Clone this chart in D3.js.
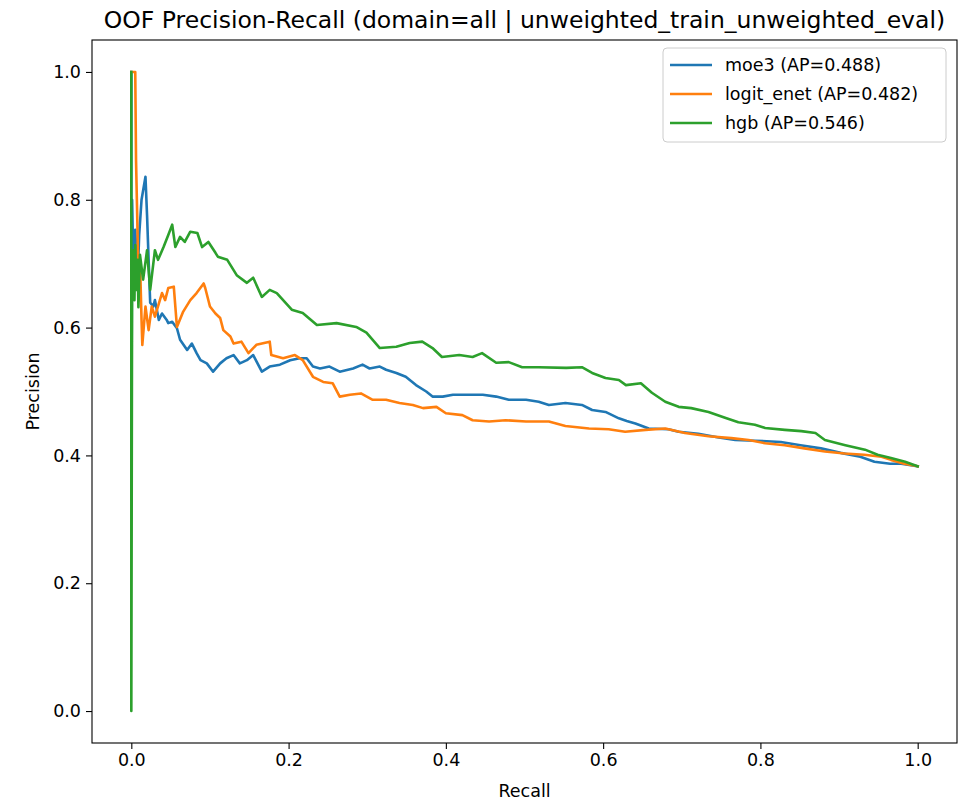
<!DOCTYPE html>
<html>
<head>
<meta charset="utf-8">
<script src="https://cdn.jsdelivr.net/npm/d3@7"></script>
<style>
  html, body { margin: 0; padding: 0; background: #fff; }
  svg { display: block; font-family: 'DejaVu Sans', sans-serif; }
</style>
</head>
<body>
<div id="chart"></div>
<script>
// Chart data (recall, precision)
const moe3PR = [
  [0, 1], [0, 0.33], [0.001, 0.800], [0.003, 0.675], [0.005, 0.753], [0.008, 0.675], [0.010, 0.745],
  [0.013, 0.800], [0.018, 0.836], [0.020, 0.776], [0.022, 0.706], [0.024, 0.639], [0.028, 0.633],
  [0.030, 0.643], [0.035, 0.612], [0.039, 0.622], [0.045, 0.612], [0.047, 0.607], [0.052, 0.609],
  [0.058, 0.599], [0.062, 0.581], [0.071, 0.565], [0.077, 0.575], [0.083, 0.560], [0.088, 0.549],
  [0.096, 0.544], [0.104, 0.531], [0.113, 0.544], [0.121, 0.552], [0.130, 0.557], [0.138, 0.544],
  [0.147, 0.549], [0.155, 0.557], [0.166, 0.531], [0.176, 0.539], [0.189, 0.542], [0.202, 0.549],
  [0.214, 0.552], [0.223, 0.552], [0.231, 0.539], [0.240, 0.536], [0.252, 0.539], [0.265, 0.531],
  [0.282, 0.536], [0.294, 0.542], [0.303, 0.536], [0.316, 0.539], [0.324, 0.534], [0.337, 0.529],
  [0.349, 0.523], [0.362, 0.510], [0.375, 0.500], [0.383, 0.492], [0.396, 0.492], [0.409, 0.495],
  [0.426, 0.495], [0.447, 0.495], [0.464, 0.492], [0.480, 0.487], [0.502, 0.487], [0.518, 0.484],
  [0.531, 0.479], [0.552, 0.482], [0.573, 0.479], [0.586, 0.471], [0.603, 0.468], [0.620, 0.458],
  [0.630, 0.454], [0.641, 0.450], [0.658, 0.442], [0.683, 0.441], [0.696, 0.437], [0.721, 0.434],
  [0.747, 0.428], [0.768, 0.424], [0.793, 0.423], [0.826, 0.421], [0.851, 0.416], [0.877, 0.411],
  [0.902, 0.404], [0.927, 0.398], [0.945, 0.390], [0.965, 0.387], [0.979, 0.387], [1.0, 0.383]
];

const logitEnetPR = [
  [0, 1], [0.005, 1], [0.006, 0.862], [0.008, 0.745], [0.009, 0.675], [0.010, 0.643], [0.011, 0.706],
  [0.013, 0.612], [0.014, 0.573], [0.018, 0.633], [0.022, 0.596], [0.026, 0.633], [0.030, 0.617],
  [0.039, 0.654], [0.043, 0.643], [0.047, 0.662], [0.054, 0.664], [0.058, 0.601], [0.066, 0.625],
  [0.075, 0.643], [0.083, 0.654], [0.092, 0.669], [0.094, 0.662], [0.100, 0.633], [0.107, 0.622],
  [0.113, 0.615], [0.117, 0.596], [0.126, 0.586], [0.130, 0.575], [0.140, 0.578], [0.149, 0.560],
  [0.159, 0.573], [0.176, 0.578], [0.178, 0.557], [0.193, 0.552], [0.208, 0.557], [0.218, 0.549],
  [0.231, 0.523], [0.244, 0.515], [0.256, 0.513], [0.265, 0.492], [0.278, 0.495], [0.292, 0.497],
  [0.307, 0.487], [0.324, 0.487], [0.341, 0.482], [0.358, 0.479], [0.371, 0.474], [0.388, 0.476],
  [0.400, 0.466], [0.421, 0.463], [0.434, 0.455], [0.455, 0.453], [0.476, 0.455], [0.502, 0.453],
  [0.531, 0.453], [0.552, 0.446], [0.582, 0.442], [0.607, 0.441], [0.628, 0.437], [0.654, 0.440],
  [0.679, 0.442], [0.704, 0.435], [0.734, 0.430], [0.763, 0.427], [0.785, 0.424], [0.806, 0.419],
  [0.831, 0.416], [0.856, 0.411], [0.882, 0.406], [0.907, 0.403], [0.932, 0.401], [0.954, 0.398],
  [0.966, 0.393], [0.983, 0.387], [1.0, 0.383]
];

const hgbPR = [
  [0, 1], [0, 0], [0.001, 0.675], [0.003, 0.721], [0.004, 0.643], [0.005, 0.729], [0.006, 0.659],
  [0.008, 0.706], [0.009, 0.632], [0.011, 0.714], [0.015, 0.675], [0.020, 0.721], [0.024, 0.659],
  [0.030, 0.721], [0.034, 0.706], [0.041, 0.726], [0.047, 0.745], [0.052, 0.761], [0.056, 0.726],
  [0.062, 0.742], [0.068, 0.734], [0.075, 0.750], [0.084, 0.748], [0.090, 0.726], [0.098, 0.734],
  [0.107, 0.717], [0.110, 0.711], [0.122, 0.706], [0.134, 0.682], [0.147, 0.670], [0.155, 0.678],
  [0.166, 0.648], [0.176, 0.659], [0.185, 0.654], [0.204, 0.628], [0.218, 0.623], [0.236, 0.604],
  [0.261, 0.607], [0.286, 0.601], [0.299, 0.592], [0.316, 0.568], [0.337, 0.570], [0.354, 0.576],
  [0.370, 0.578], [0.383, 0.568], [0.395, 0.554], [0.417, 0.557], [0.434, 0.554], [0.446, 0.560],
  [0.464, 0.545], [0.480, 0.546], [0.497, 0.538], [0.518, 0.538], [0.553, 0.537], [0.573, 0.538],
  [0.586, 0.529], [0.603, 0.521], [0.620, 0.518], [0.629, 0.510], [0.648, 0.513], [0.662, 0.498],
  [0.679, 0.484], [0.696, 0.476], [0.712, 0.474], [0.734, 0.468], [0.755, 0.459], [0.772, 0.452],
  [0.793, 0.448], [0.806, 0.443], [0.831, 0.440], [0.852, 0.438], [0.870, 0.435], [0.882, 0.424],
  [0.908, 0.416], [0.933, 0.409], [0.949, 0.401], [0.966, 0.396], [0.984, 0.390], [1.0, 0.383]
];

const seriesNames = ['moe3', 'logit_enet', 'hgb'];
const apValues = [0.488, 0.482, 0.546];
const seriesColors = ['#1f77b4', '#ff7f0e', '#2ca02c'];
const xTicks = [0, 0.2, 0.4, 0.6, 0.8, 1.0];
const yTicks = [0, 0.2, 0.4, 0.6, 0.8, 1.0];

const series = [moe3PR, logitEnetPR, hgbPR].map((points, i) => ({
  name: seriesNames[i],
  ap: apValues[i],
  color: seriesColors[i],
  points
}));

const width = 964;
const height = 805;
const margin = { top: 40, right: 7, bottom: 62, left: 92 };
const plotW = width - margin.left - margin.right;
const plotH = height - margin.top - margin.bottom;

const svg = d3
  .select('#chart')
  .append('svg')
  .attr('width', width)
  .attr('height', height);

const g = svg.append('g').attr('transform', `translate(${margin.left},${margin.top})`);

// Scales
const x = d3.scaleLinear().domain([-0.05, 1.05]).range([0, plotW]);
const y = d3.scaleLinear().domain([-0.05, 1.05]).range([plotH, 0]);

// Clip for lines
svg
  .append('defs')
  .append('clipPath')
  .attr('id', 'plot-clip')
  .append('rect')
  .attr('width', plotW)
  .attr('height', plotH);

// X axis
g.append('g')
  .attr('transform', `translate(0,${plotH})`)
  .call(d3.axisBottom(x).tickValues(xTicks).tickFormat(d3.format('.1f')).tickSize(6).tickPadding(5))
  .call((a) => a.select('.domain').remove())
  .call((a) => a.selectAll('.tick line').attr('stroke', '#000').attr('stroke-width', 1.1))
  .call((a) => a.selectAll('.tick text').attr('fill', '#000').style('font-size', '17.5px').style('font-family', 'DejaVu Sans'));

// Y axis
g.append('g')
  .call(d3.axisLeft(y).tickValues(yTicks).tickFormat(d3.format('.1f')).tickSize(6).tickPadding(5))
  .call((a) => a.select('.domain').remove())
  .call((a) => a.selectAll('.tick line').attr('stroke', '#000').attr('stroke-width', 1.1))
  .call((a) => a.selectAll('.tick text').attr('fill', '#000').style('font-size', '17.5px').style('font-family', 'DejaVu Sans'));

// Lines
const line = d3
  .line()
  .x((d) => x(d[0]))
  .y((d) => y(d[1]));

g.append('g')
  .attr('clip-path', 'url(#plot-clip)')
  .selectAll('path')
  .data(series)
  .join('path')
  .attr('fill', 'none')
  .attr('stroke', (d) => d.color)
  .attr('stroke-width', 2.6)
  .attr('stroke-linejoin', 'round')
  .attr('stroke-linecap', 'square')
  .attr('d', (d) => line(d.points));

// Frame
g.append('rect')
  .attr('width', plotW)
  .attr('height', plotH)
  .attr('fill', 'none')
  .attr('stroke', '#000')
  .attr('stroke-width', 1.1);

// Title
svg
  .append('text')
  .attr('x', margin.left + plotW / 2)
  .attr('y', 28)
  .attr('text-anchor', 'middle')
  .style('font-size', '23.5px')
  .text('OOF Precision-Recall (domain=all | unweighted_train_unweighted_eval)');

// Axis labels
svg
  .append('text')
  .attr('x', margin.left + plotW / 2)
  .attr('y', 797)
  .attr('text-anchor', 'middle')
  .style('font-size', '17.5px')
  .text('Recall');

svg
  .append('text')
  .attr('transform', `translate(39,${margin.top + plotH / 2}) rotate(-90)`)
  .attr('text-anchor', 'middle')
  .style('font-size', '17.5px')
  .text('Precision');

// Legend
const legend = g.append('g').attr('transform', `translate(${663 - margin.left},${48 - margin.top})`);

legend
  .append('rect')
  .attr('width', 283)
  .attr('height', 94)
  .attr('rx', 4)
  .attr('fill', '#fff')
  .attr('fill-opacity', 0.8)
  .attr('stroke', '#cccccc');

const items = legend
  .selectAll('.legend-item')
  .data(series)
  .join('g')
  .attr('class', 'legend-item')
  .attr('transform', (d, i) => `translate(0,${17 + i * 29})`);

items
  .append('line')
  .attr('x1', 7)
  .attr('x2', 49)
  .attr('stroke', (d) => d.color)
  .attr('stroke-width', 2.6);

items
  .append('text')
  .attr('x', 62)
  .attr('y', 6)
  .style('font-size', '17.5px')
  .text((d) => `${d.name} (AP=${d.ap.toFixed(3)})`);
</script>
</body>
</html>
